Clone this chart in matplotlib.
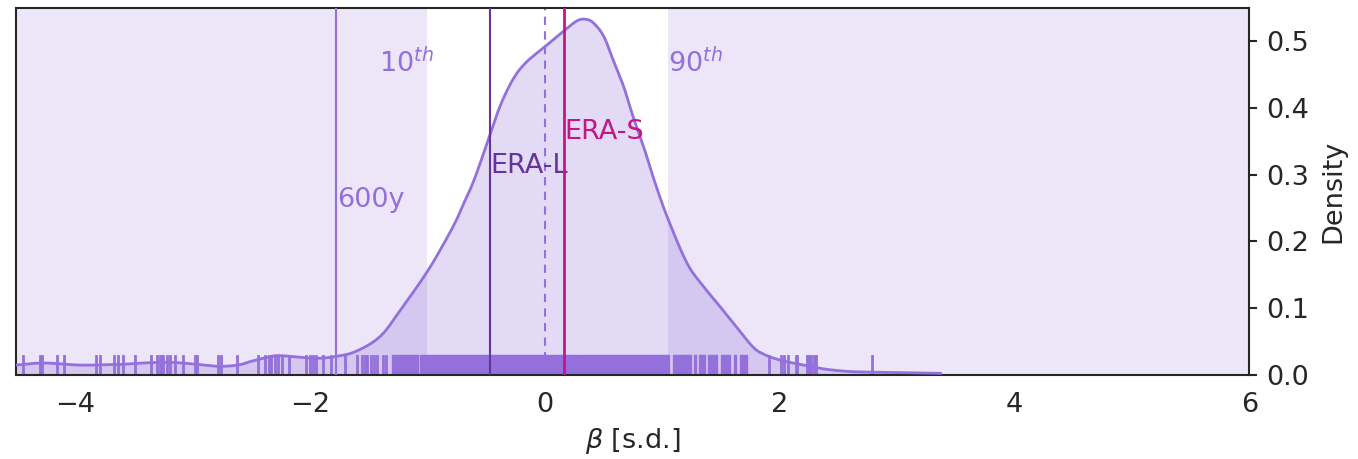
import matplotlib
matplotlib.use("Agg")
import matplotlib.pyplot as plt
import numpy as np

# KDE curve
kde_x = [-4.6, -4.5, -4.27, -3.99, -3.82, -3.6, -3.42, -3.19, -2.96, -2.77, -2.61,
         -2.51, -2.4, -2.28, -2.11, -1.94, -1.77, -1.60, -1.40, -1.23, -1.0,
         -0.84, -0.75, -0.70, -0.60, -0.47, -0.38, -0.27, -0.16, 0.01, 0.16, 0.27,
         0.34, 0.41, 0.50, 0.58, 0.67, 0.75, 0.84, 0.92, 1.04, 1.21, 1.35, 1.49,
         1.63, 1.77, 1.86, 2.0, 2.2, 2.4, 2.62, 2.91, 3.37]
kde_y = [0.015, 0.015, 0.018, 0.015, 0.015, 0.016, 0.018, 0.019, 0.016, 0.013, 0.015,
         0.020, 0.025, 0.029, 0.027, 0.025, 0.028, 0.036, 0.058, 0.097, 0.155,
         0.203, 0.233, 0.253, 0.293, 0.358, 0.403, 0.443, 0.468, 0.493, 0.515, 0.530,
         0.533, 0.528, 0.508, 0.473, 0.433, 0.388, 0.343, 0.298, 0.238, 0.168, 0.133, 0.103,
         0.0725, 0.0425, 0.0315, 0.0225, 0.015, 0.0085, 0.005, 0.004, 0.0025]

# rug positions
rug_sparse_left = [-4.44, -4.30, -4.28, -4.15, -4.09, -3.82, -3.79, -3.67, -3.63, -3.59,
                   -3.49, -3.35, -3.30, -3.28, -3.26, -3.25, -3.22, -3.19, -3.15, -3.08,
                   -2.98, -2.96, -2.78, -2.76, -2.62, -2.44, -2.38, -2.35, -2.33, -2.30,
                   -2.27, -2.24, -2.18, -2.03, -2.00, -1.97, -1.95, -1.89, -1.82, -1.70,
                   -1.60, -1.56, -1.53, -1.51, -1.48, -1.45, -1.43, -1.38, -1.35]
rug_dense = [-1.29, -1.27, -1.25, -1.23, -1.21, -1.19, -1.17, -1.15, -1.13, -1.11, -1.09,
             -1.05, -1.03, -1.01,
             -0.99, -0.97, -0.95, -0.93, -0.91, -0.89, -0.87, -0.85, -0.83, -0.81,
             -0.79, -0.77, -0.75, -0.73, -0.71, -0.69, -0.67, -0.65, -0.63, -0.61,
             -0.59, -0.57, -0.55, -0.53, -0.51, -0.49, -0.47, -0.45, -0.43, -0.41,
             -0.39, -0.37, -0.35, -0.33, -0.31, -0.29, -0.27, -0.25, -0.23, -0.21,
             -0.19, -0.17, -0.15, -0.13, -0.11, -0.09, -0.07, -0.05, -0.03, -0.01,
             0.01, 0.03, 0.05, 0.07, 0.09, 0.11, 0.13, 0.15, 0.17, 0.19,
             0.21, 0.23, 0.25, 0.27, 0.29, 0.31, 0.33, 0.35, 0.37, 0.39,
             0.41, 0.43, 0.45, 0.47, 0.49, 0.51, 0.53, 0.55, 0.57, 0.59,
             0.61, 0.63, 0.65, 0.67, 0.69, 0.71, 0.73, 0.75, 0.77, 0.79,
             0.81, 0.83, 0.85, 0.87, 0.89, 0.91, 0.93, 0.95, 0.97, 0.99,
             1.01, 1.03, 1.05, 1.10, 1.12, 1.14, 1.16, 1.18, 1.20, 1.22, 1.24,
             1.28, 1.32, 1.34, 1.36, 1.40, 1.42, 1.44, 1.46, 1.51, 1.53, 1.55,
             1.57, 1.62, 1.67, 1.69, 1.71]
rug_sparse_right = [1.91, 2.01, 2.04, 2.07, 2.14, 2.15, 2.23, 2.25, 2.27, 2.29, 2.31, 2.79]

# reference values
p10, p90 = -1.0, 1.05
beta_600y = -1.78
beta_eral = -0.47
beta_eras = 0.16
beta_mean = 0.0

purple = "#9370DB"
dark = "#262626"
fs = 19.5


def smooth_path(xs, ys, n=12):
    """Catmull-Rom drawing of the read points (rendering only)."""
    xs = np.asarray(xs, float)
    ys = np.asarray(ys, float)
    px = np.concatenate([[2 * xs[0] - xs[1]], xs, [2 * xs[-1] - xs[-2]]])
    py = np.concatenate([[2 * ys[0] - ys[1]], ys, [2 * ys[-1] - ys[-2]]])
    ox, oy = [], []
    t = np.linspace(0, 1, n, endpoint=False)
    for i in range(1, len(px) - 2):
        for arr, out in ((px, ox), (py, oy)):
            p0, p1, p2, p3 = arr[i - 1], arr[i], arr[i + 1], arr[i + 2]
            out.extend(0.5 * ((2 * p1) + (-p0 + p2) * t
                              + (2 * p0 - 5 * p1 + 4 * p2 - p3) * t ** 2
                              + (-p0 + 3 * p1 - 3 * p2 + p3) * t ** 3))
    ox.append(xs[-1])
    oy.append(ys[-1])
    return np.array(ox), np.clip(np.array(oy), 0, None)


plt.rcParams['font.family'] = ['DejaVu Sans']
fig = plt.figure(figsize=(13.58, 4.59), dpi=100)
ax = fig.add_axes([0.012, 0.183, 0.908, 0.800])

xmin, xmax = -4.5, 6
ax.axvspan(xmin - 1, p10, color=purple, alpha=0.17, lw=0, zorder=0)
ax.axvspan(p90, xmax + 1, color=purple, alpha=0.17, lw=0, zorder=0)

sx, sy = smooth_path(kde_x, kde_y)
ax.fill_between(sx, sy, color=purple, alpha=0.25, lw=0, zorder=1)
ax.plot(sx, sy, color=purple, lw=2, zorder=3)

for xv in rug_sparse_left + rug_sparse_right:
    ax.axvline(xv, ymin=0, ymax=0.052, color=purple, lw=2.0, zorder=2)
for xv in rug_dense:
    ax.axvline(xv, ymin=0, ymax=0.052, color=purple, lw=2.4, zorder=2)

ax.axvline(beta_600y, color=purple, lw=1.5, zorder=4)
ax.axvline(beta_eral, color="#663399", lw=1.5, zorder=4)
ax.axvline(beta_mean, color=purple, lw=1.5, ls=(0, (4, 3)), zorder=1.5)
ax.axvline(beta_eras, color="#C71585", lw=2, zorder=4)

ax.text(p10 + 0.06, 0.468, r"10$^{th}$", color=purple, fontsize=fs, ha="right", va="center")
ax.text(p90, 0.468, r"90$^{th}$", color=purple, fontsize=fs, ha="left", va="center")
ax.text(beta_600y + 0.01, 0.262, "600y", color=purple, fontsize=fs, ha="left", va="center")
ax.text(beta_eral + 0.01, 0.313, "ERA-L", color="#663399", fontsize=fs, ha="left", va="center")
ax.text(beta_eras + 0.01, 0.364, "ERA-S", color="#C71585", fontsize=fs, ha="left", va="center")

ax.set_xlim(xmin, xmax)
ax.set_ylim(0, 0.55)
ax.set_xticks([-4, -2, 0, 2, 4, 6])
ax.set_yticks([0.0, 0.1, 0.2, 0.3, 0.4, 0.5])
ax.yaxis.tick_right()
ax.yaxis.set_label_position("right")
ax.tick_params(axis="x", length=0, pad=12, labelsize=fs, colors=dark)
ax.tick_params(axis="y", length=6, width=1.5, pad=6, labelsize=fs, colors=dark)
ax.set_xlabel(r"$\beta$ [s.d.]", fontsize=fs, color=dark, labelpad=6)
ax.set_ylabel("Density", fontsize=fs, color=dark, labelpad=8)
for s in ax.spines.values():
    s.set_color(dark)
    s.set_linewidth(1.5)

fig.savefig("out.png", dpi=100)
